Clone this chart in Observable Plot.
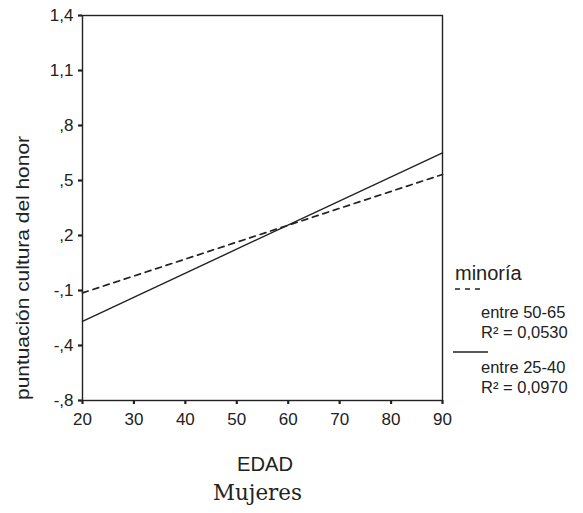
<!DOCTYPE html>
<html>
<head>
<meta charset="utf-8">
<script src="https://cdn.jsdelivr.net/npm/d3@7"></script>
<script src="https://cdn.jsdelivr.net/npm/@observablehq/plot@0.6"></script>
<style>
body { margin: 0; background: #fff; }
#chart { position: relative; width: 583px; height: 513px; }
</style>
</head>
<body>
<div id="chart"></div>
<script>
// Data
const xTicks = [20, 30, 40, 50, 60, 70, 80, 90];
const yTicks = [1.4, 1.1, 0.8, 0.5, 0.2, -0.1, -0.4, -0.7];
const yTickLabels = ["1,4", "1,1", ",8", ",5", ",2", "-,1", "-,4", "-,8"];
const edad = [20, 90];
const grupo5065 = [-0.113, 0.533];   // dashed, R² = 0,0530
const grupo2540 = [-0.268, 0.651];   // solid, R² = 0,0970
const legendTitle = "minoría";
const seriesNames = ["entre 50-65", "entre 25-40"];
const seriesR2 = ["R² = 0,0530", "R² = 0,0970"];
const xTitle = "EDAD";
const yTitle = "puntuación cultura del honor";
const caption = "Mujeres";

const lineA = edad.map((x, i) => ({x, y: grupo5065[i]}));
const lineB = edad.map((x, i) => ({x, y: grupo2540[i]}));

const font = "'Liberation Sans', Arial, sans-serif";
const ink = "#222";

const plot = Plot.plot({
  width: 583,
  height: 513,
  marginLeft: 82,
  marginRight: 141,
  marginTop: 15,
  marginBottom: 113,
  style: {fontFamily: font, fontSize: "17px", color: ink, background: "#fff"},
  x: {domain: [20, 90], ticks: xTicks, label: null},
  y: {domain: [-0.7, 1.4], ticks: yTicks, label: null},
  marks: [
    Plot.axisX({ticks: xTicks, tickSize: 4, tickPadding: 8, tickFormat: d => String(d), fontSize: 17, strokeWidth: 2.2}),
    Plot.axisY({ticks: yTicks, tickSize: 4, tickPadding: 5, tickFormat: d => yTickLabels[yTicks.indexOf(d)], fontSize: 17, strokeWidth: 2.2}),
    Plot.frame({stroke: ink, strokeWidth: 1.4}),
    Plot.line(lineA, {x: "x", y: "y", stroke: ink, strokeWidth: 1.7, strokeDasharray: "6,5"}),
    Plot.line(lineB, {x: "x", y: "y", stroke: ink, strokeWidth: 1.4})
  ]
});
document.getElementById("chart").appendChild(plot);

// Annotations: axis titles, caption, legend
const svg = d3.select(plot);
svg.append("text")
  .attr("transform", "translate(29,400) rotate(-90)")
  .attr("text-anchor", "start")
  .attr("textLength", 264).attr("lengthAdjust", "spacingAndGlyphs")
  .style("font-family", font).style("font-size", "18px").attr("fill", ink)
  .text(yTitle);
svg.append("text")
  .attr("x", 237).attr("y", 471).attr("text-anchor", "start")
  .attr("textLength", 56).attr("lengthAdjust", "spacingAndGlyphs")
  .style("font-family", font).style("font-size", "20px").attr("fill", ink)
  .text(xTitle);
svg.append("text")
  .attr("x", 213).attr("y", 500).attr("text-anchor", "start")
  .attr("textLength", 89).attr("lengthAdjust", "spacingAndGlyphs")
  .style("font-family", "'DejaVu Serif', 'Liberation Serif', serif").style("font-size", "22px").attr("fill", ink)
  .text(caption);

const lg = svg.append("g").style("font-family", font).attr("fill", ink).attr("text-anchor", "start");
lg.append("text").attr("x", 455).attr("y", 280).style("font-size", "20px").text(legendTitle);
lg.append("line").attr("x1", 455).attr("x2", 480).attr("y1", 289).attr("y2", 289)
  .attr("stroke", ink).attr("stroke-width", 1.5).attr("stroke-dasharray", "5,5");
lg.append("text").attr("x", 481).attr("y", 318).style("font-size", "16.5px").text(seriesNames[0]);
lg.append("text").attr("x", 481).attr("y", 338).style("font-size", "16.5px").text(seriesR2[0]);
lg.append("line").attr("x1", 453).attr("x2", 488).attr("y1", 352).attr("y2", 352)
  .attr("stroke", ink).attr("stroke-width", 1.4);
lg.append("text").attr("x", 481).attr("y", 373).style("font-size", "16.5px").text(seriesNames[1]);
lg.append("text").attr("x", 481).attr("y", 393).style("font-size", "16.5px").text(seriesR2[1]);
</script>
</body>
</html>
